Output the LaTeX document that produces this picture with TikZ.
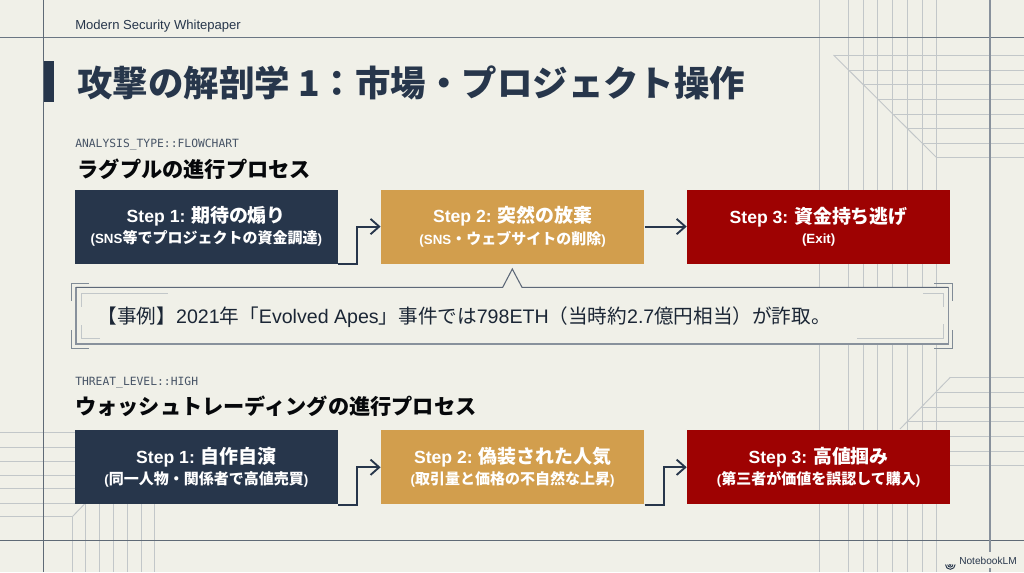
\documentclass[tikz,border=0pt]{standalone}
\usepackage{fontspec}
\setmainfont{Noto Sans CJK JP}
\newfontfamily\lat{Liberation Sans}
\newfontfamily\mon{DejaVu Sans Mono}
\usetikzlibrary{arrows.meta}
\definecolor{paper}{HTML}{F0F0E8}
\definecolor{navy}{HTML}{27364B}
\definecolor{gold}{HTML}{D29E4D}
\definecolor{crim}{HTML}{9E0202}
\definecolor{gline}{HTML}{C2C7C9}
\definecolor{fline}{HTML}{6A7683}
\tikzset{
 stepbox/.style={minimum width=197.6pt,minimum height=55.5pt,inner sep=0pt,align=center,text=white,anchor=north west},
 flow/.style={draw=navy,line width=1.5pt,-{Straight Barb[length=6.5pt,width=11.5pt,line width=1.4pt]}},
 grid line/.style={draw=gline,line width=.7pt},
 frame line/.style={draw=fline,line width=.8pt},
 bracket/.style={draw=fline!85,line width=.65pt},
 inner bracket/.style={draw=gline,line width=.65pt},
}
\newcommand{\stp}[3]{{\fontsize{14.2}{15}\selectfont\bfseries{\lat\fontsize{13.2}{15}\selectfont #1} #2}\\[2.6pt]{\fontsize{11.25}{12}\selectfont\bfseries #3}}
\newcommand{\lb}[1]{{\lat\fontsize{10}{12}\selectfont\bfseries #1}}
\newcommand{\lc}[1]{{\lat\fontsize{14.7}{18}\selectfont #1}}
\begin{document}
\begin{tikzpicture}[x=0.75pt,y=-0.75pt]
\fill[paper] (0,0) rectangle (1024,572);
\useasboundingbox (0,0) rectangle (1024,572);
% right upper grid
\foreach \x in {819.5,848,863,877.5,892.5,907,922,936.5}{\draw[grid line] (\x,0) -- (\x,572);}
\foreach \y/\x in {55/833.5,70/848,84.5/863,99/878,114/892.5,128.5/907,143/922,157.5/936.5}{\draw[grid line] (\x,\y) -- (1024,\y);}
\draw[grid line] (833.5,55) -- (936.5,157.5);
% right lower grid
\foreach \y/\x in {377.3/950.3,392/936,407/921,421.7/907,436/900,451/900,465/900}{\draw[grid line] (\x,\y) -- (1024,\y);}
\draw[grid line] (950.3,377.3) -- (900,429);
% left lower grid
\foreach \x in {85.5,99,113.5,127.5,141,154.5}{\draw[grid line] (\x,503) -- (\x,572);}
\draw[grid line] (72.3,516.7) -- (72.3,572);
\draw[grid line] (72.3,516.7) -- (85.5,503);
\foreach \y in {432,447,461,475,488.5,503}{\draw[grid line] (0,\y) -- (76,\y);}
\draw[grid line] (0,516.7) -- (72.3,516.7);
% frame
\draw[frame line,line width=1pt] (0,37.8) -- (1024,37.8);
\draw[frame line,draw=fline!90!black,line width=.7pt] (0,540.5) -- (1024,540.5);
\draw[frame line,draw=fline!90!black,line width=.7pt] (43.3,0) -- (43.3,572);
\draw[frame line,draw=fline!80,line width=1.2pt] (990,0) -- (990,572);
% title
\fill[navy] (43.5,60.5) rectangle (54,102);
\node[anchor=west,inner sep=0pt,text=navy] (title) at (77,83) {\fontsize{26.6}{30}\selectfont\bfseries 攻撃の解剖学 1：市場・プロジェクト操作};
\node[anchor=west,inner sep=0pt,text=navy] (paper) at (75,26) {\lat\fontsize{9.8}{12}\selectfont Modern Security Whitepaper};
\node[anchor=west,inner sep=0pt,text=navy!85] (tag1) at (75,145) {\mon\fontsize{8.5}{10}\selectfont ANALYSIS\_TYPE::FLOWCHART};
\node[anchor=west,inner sep=0pt,text=black!85!navy] (sub1) at (77.5,169) {\fontsize{15.9}{19}\selectfont\bfseries ラグプルの進行プロセス};
\node[anchor=west,inner sep=0pt,text=navy!85] (tag2) at (75,383) {\mon\fontsize{8.5}{10}\selectfont THREAT\_LEVEL::HIGH};
\node[anchor=west,inner sep=0pt,text=black!85!navy] (sub2) at (75,406) {\fontsize{15.9}{19}\selectfont\bfseries ウォッシュトレーディングの進行プロセス};
% row 1
\node[stepbox,fill=navy] (a1) at (74.3,189.3) {\stp{Step 1:}{期待の煽り}{\lb{(SNS}等でプロジェクトの資金調達\lb{)}}};
\node[stepbox,fill=gold] (a2) at (380.6,189.3) {\stp{Step 2:}{突然の放棄}{\lb{(SNS}・ウェブサイトの削除\lb{)}}};
\node[stepbox,fill=crim] (a3) at (686.7,189.3) {\stp{Step 3:}{資金持ち逃げ}{\lb{(Exit)}}};
\draw[flow] (a1.south east) -- ++(19,0) |- (a2.west);
\draw[flow] (a2.east) -- (a3.west);
% row 2
\node[stepbox,fill=navy] (b1) at (74.3,430) {\stp{Step 1:}{自作自演}{\lb{(}同一人物・関係者で高値売買\lb{)}}};
\node[stepbox,fill=gold] (b2) at (380.6,430) {\stp{Step 2:}{偽装された人気}{\lb{(}取引量と価格の不自然な上昇\lb{)}}};
\node[stepbox,fill=crim] (b3) at (686.7,430) {\stp{Step 3:}{高値掴み}{\lb{(}第三者が価値を誤認して購入\lb{)}}};
\draw[flow] (b1.south east) -- ++(19,0) |- (b2.west);
\draw[flow] (b2.south east) -- ++(19,0) |- (b3.west);
% callout
\fill[paper] (76,287.3) -- (502.7,287.3) -- (512.3,269) -- (522,287.3) -- (948.3,287.3) -- (948.3,344) -- (76,344) -- cycle;
\draw[frame line,draw=fline!80] (948.3,287.3) -- (948.3,344) -- (76,344) -- (76,287.3);
\draw[frame line,draw=navy!75] (76,287.3) -- (502.7,287.3) -- (512.3,269) -- (522,287.3) -- (948.3,287.3);
\draw[bracket] (89,283.3) -- (71,283.3) -- (71,300.7);
\draw[bracket] (71,330) -- (71,348.3) -- (89,348.3);
\draw[bracket] (934.3,283.3) -- (952.7,283.3) -- (952.7,300.7);
\draw[bracket] (952.7,330) -- (952.7,348.3) -- (934.3,348.3);
\draw[inner bracket] (167.7,293.3) -- (81,293.3) -- (81,307.3);
\draw[inner bracket] (81,325) -- (81,338.3) -- (100,338.3);
\draw[inner bracket] (923,293.3) -- (943.3,293.3) -- (943.3,307.3);
\draw[inner bracket] (943.3,324) -- (943.3,338.3) -- (856.7,338.3);
\node[anchor=west,inner sep=0pt,text=navy!70!black] (case) at (97.5,317.5) {\fontsize{14.7}{18}\selectfont 【事例】\lc{2021}年「\lc{Evolved Apes}」事件では\lc{798ETH}（当時約\lc{2.7}億円相当）が詐取。};
% logo
\fill[paper] (944,552) rectangle (1018,568);
\draw[navy,line width=.7pt] (945.5,564.5) arc (180:0:4.8);
\draw[navy,line width=.7pt] (947.7,564.5) arc (180:0:2.6);
\draw[navy,line width=.7pt] (949.4,564.5) arc (180:0:.9);
\node[anchor=west,inner sep=0pt,text=navy] (nb) at (959,560.7) {\lat\fontsize{7.6}{9}\selectfont NotebookLM};
\end{tikzpicture}
\end{document}
